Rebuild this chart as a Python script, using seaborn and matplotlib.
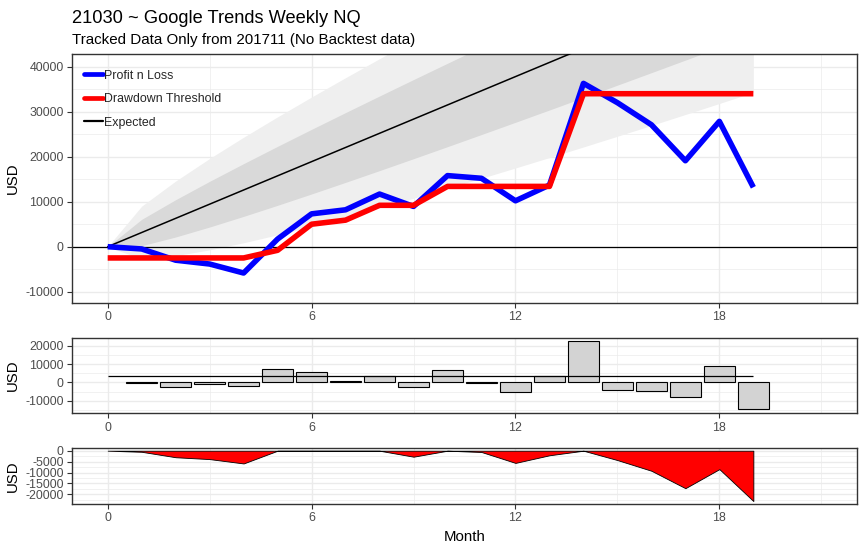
import numpy as np
import pandas as pd
import matplotlib
matplotlib.use("Agg")
import matplotlib.pyplot as plt
import seaborn as sns
from matplotlib.ticker import FixedLocator
from matplotlib.lines import Line2D

# ---------------- data ----------------
months = list(range(20))
pnl = [0, -500, -3000, -3850, -5850, 1700, 7300, 8200, 11700, 8950,
       15800, 15200, 10200, 13700, 36300, 32000, 27100, 19100, 27850, 13200]
threshold = [-2500, -2500, -2500, -2500, -2500, -800, 5000, 5900, 9200, 9200,
             13400, 13400, 13400, 13400, 34000, 34000, 34000, 34000, 34000, 34000]
expected = [0, 3150, 6300, 9450, 12600, 15750, 18900, 22050, 25200, 28350,
            31500, 34650, 37800, 40950, 44100, 47250, 50400, 53550, 56700, 59850]
inner_lo = [0, 219, 2155, 4373, 6738, 9196, 11720, 14295, 16910, 19557,
            22231, 24929, 27647, 30382, 33133, 35898, 38676, 41465, 44264, 47074]
inner_hi = [0, 6081, 10445, 14527, 18462, 22304, 26080, 29805, 33490, 37143,
            40769, 44371, 47953, 51518, 55067, 58602, 62124, 65635, 69136, 72626]
outer_lo = [0, -2712, -1990, -704, 876, 2642, 4540, 6540, 8620, 10764,
            12962, 15208, 17494, 19814, 22166, 24546, 26952, 29380, 31828, 34298]
outer_hi = [0, 9012, 14590, 19604, 24324, 28858, 33260, 37560, 41780, 45936,
            50038, 54092, 58106, 62086, 66034, 69954, 73848, 77720, 81572, 85402]
expected_monthly = 3250

x_major = [0, 6, 12, 18]
x_minor = [3, 9, 15, 21]
top_major = [-10000, 0, 10000, 20000, 30000, 40000]
top_minor = [-5000, 5000, 15000, 25000, 35000]
mid_major = [-10000, 0, 10000, 20000]
mid_minor = [-15000, -5000, 5000, 15000]
bot_major = [-20000, -15000, -10000, -5000, 0]
bot_minor = [-22500, -17500, -12500, -7500, -2500]

df = pd.DataFrame({"month": months, "pnl": pnl, "threshold": threshold,
                   "expected": expected})
df["change"] = df["pnl"].diff()
df["drawdown"] = df["pnl"] - df["pnl"].cummax()
bars = df.iloc[1:]

# ---------------- style ----------------
sns.set_theme(style="white")
plt.rcParams["font.family"] = ["Liberation Sans", "DejaVu Sans"]

W, H = 865, 551
fig = plt.figure(figsize=(W / 100, H / 100), dpi=100)

def box(l, t, r, b):
    return [l / W, 1 - b / H, (r - l) / W, (b - t) / H]

ax1 = fig.add_axes(box(72, 54.3, 857, 303))
ax2 = fig.add_axes(box(72, 337.5, 857, 413.3))
ax3 = fig.add_axes(box(72, 448, 857, 504))

def style_ax(ax, ymaj, ymin):
    ax.set_facecolor("white")
    ax.set_xlim(-1.05, 22.05)
    ax.xaxis.set_major_locator(FixedLocator(x_major))
    ax.xaxis.set_minor_locator(FixedLocator(x_minor))
    ax.yaxis.set_major_locator(FixedLocator(ymaj))
    ax.yaxis.set_minor_locator(FixedLocator(ymin))
    ax.grid(which="major", color="#EBEBEB", lw=1.0, zorder=0)
    ax.grid(which="minor", color="#EBEBEB", lw=0.5, zorder=0)
    ax.set_axisbelow(True)
    for s in ax.spines.values():
        s.set_color("#333333")
        s.set_linewidth(1.0)
        s.set_visible(True)
    ax.tick_params(which="major", length=3.5, width=0.8, color="#333333",
                   labelsize=8.9, labelcolor="#4D4D4D", pad=2.5,
                   left=True, bottom=True)
    ax.tick_params(which="minor", length=0, left=False, bottom=False)
    ax.set_xticklabels([str(v) for v in x_major])
    ax.set_yticklabels([str(v) for v in ymaj])
    ax.set_xlabel("")
    ax.set_ylabel("USD", fontsize=10.8, color="black")
    ax.yaxis.set_label_coords((20 - 72) / 785, 0.5)

# ---------------- top panel ----------------
ax1.fill_between(df["month"], outer_lo, outer_hi, color="#EFEFEF", lw=0, zorder=1)
ax1.fill_between(df["month"], inner_lo, inner_hi, color="#D9D9D9", lw=0, zorder=1.5)
ax1.axhline(0, color="black", lw=0.9, zorder=2)
sns.lineplot(data=df, x="month", y="expected", ax=ax1, color="black", lw=1.1,
             zorder=3, legend=False)
sns.lineplot(data=df, x="month", y="pnl", ax=ax1, color="blue", lw=4.0,
             zorder=4, legend=False, solid_joinstyle="round", solid_capstyle="butt")
sns.lineplot(data=df, x="month", y="threshold", ax=ax1, color="red", lw=4.0,
             zorder=5, legend=False, solid_joinstyle="round", solid_capstyle="butt")
ax1.set_ylim(-12511, 42756)
style_ax(ax1, top_major, top_minor)

handles = [Line2D([], [], color="blue", lw=3.4),
           Line2D([], [], color="red", lw=3.4),
           Line2D([], [], color="black", lw=1.6)]
leg = ax1.legend(handles, ["Profit n Loss", "Drawdown Threshold", "Expected"],
                 loc="upper left", bbox_to_anchor=(12 / 785, 1 - 15.5 / 248.7),
                 frameon=False, fontsize=8.9, handlelength=1.5, handletextpad=0.15,
                 labelspacing=0.92, borderaxespad=0.0, borderpad=0.0)

# ---------------- middle panel ----------------
sns.barplot(data=bars, x="month", y="change", ax=ax2, native_scale=True,
            width=0.9, color="#D3D3D3", saturation=1, edgecolor="black",
            linewidth=0.8, zorder=2)
ax2.hlines(expected_monthly, months[0], months[-1], color="black", lw=0.9, zorder=3)
ax2.set_ylim(-16848, 24457)
style_ax(ax2, mid_major, mid_minor)

# ---------------- bottom panel ----------------
ax3.fill_between(df["month"], df["drawdown"], 0, facecolor="red",
                 edgecolor="black", lw=0.6, zorder=2)
ax3.set_ylim(-24450, 1240)
style_ax(ax3, bot_major, bot_minor)
ax3.set_xlabel("Month", fontsize=10.8, color="black", labelpad=4)

# ---------------- titles ----------------
fig.text(72 / W, 1 - 22.7 / H, "21030 ~ Google Trends Weekly NQ", fontsize=13.15,
         color="black", ha="left", va="baseline")
fig.text(72 / W, 1 - 44.3 / H, "Tracked Data Only from 201711 (No Backtest data)",
         fontsize=10.9, color="black", ha="left", va="baseline")

fig.savefig("out.png", dpi=100)
